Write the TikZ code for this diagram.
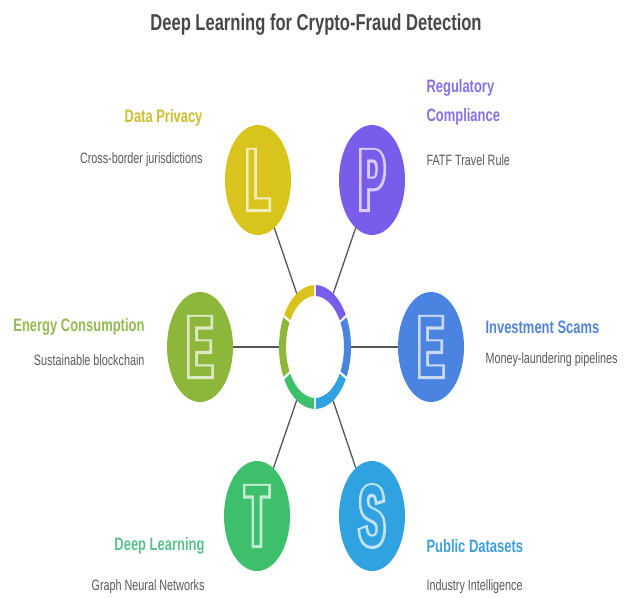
\documentclass[tikz,border=0pt]{standalone}
\usepackage{fontspec}
\setmainfont{Liberation Sans}[FakeStretch=0.72]
\newfontfamily\letterfont{Liberation Sans}[FakeStretch=0.45]
\newfontfamily\letteredge{Liberation Sans}[FakeStretch=0.45, FakeBold=6]
\usetikzlibrary{shapes.geometric, positioning}

\definecolor{privacy}{HTML}{D8C41C}
\definecolor{privacytxt}{HTML}{CDBE2E}
\definecolor{regul}{HTML}{7A5CEB}
\definecolor{regultxt}{HTML}{8670E6}
\definecolor{energy}{HTML}{8DB73B}
\definecolor{energytxt}{HTML}{92BA50}
\definecolor{invest}{HTML}{4A84E0}
\definecolor{investtxt}{HTML}{5283D8}
\definecolor{learn}{HTML}{3DBF6C}
\definecolor{learntxt}{HTML}{5CC28A}
\definecolor{data}{HTML}{2FA2DF}
\definecolor{datatxt}{HTML}{3E9FDA}
\definecolor{linkgray}{HTML}{555555}

% hollow letter: emboldened light copy below, bubble colour on top
\newcommand{\hollow}[2]{\rlap{\letteredge\bfseries\textcolor{white!70!#1}{#2}}\textcolor{#1}{#2}}

\begin{document}
\begin{tikzpicture}[x=1pt, y=-1pt,
    bubble/.style={ellipse, fill=#1, minimum width=66pt, minimum height=110pt,
      inner sep=0pt, outer sep=0pt,
      font=\letterfont\bfseries\fontsize{86}{86}\selectfont},
    head/.style={font=\fontsize{18}{29}\selectfont\bfseries, text=#1},
    note/.style={font=\fontsize{15}{18}\selectfont, text=black!65},
    link/.style={draw=linkgray, line width=1.3pt}]
  \useasboundingbox (0,0) rectangle (626,597);

  \node[font=\fontsize{23}{23}\selectfont\bfseries, text=black!72] (title) at (316,25)
      {Deep Learning for Crypto-Fraud Detection};

  % hub and the six bubbles around it
  \node[ellipse, minimum width=72pt, minimum height=124pt, inner sep=0pt, outer sep=0pt] (hub) at (315,347) {};
  \node[bubble=privacy] (L) at (258,180) {\hollow{privacy}{L}};
  \node[bubble=regul] (P) at (372,180) {\hollow{regul}{P}};
  \node[bubble=energy] (EL) at (200,347) {\hollow{energy}{E}};
  \node[bubble=invest] (ER) at (431,347) {\hollow{invest}{E}};
  \node[bubble=learn] (T) at (257,516) {\hollow{learn}{T}};
  \node[bubble=data] (S) at (372,516) {\hollow{data}{S}};

  \foreach \b in {L,P,EL,ER,T,S}
    \draw[link] (\b) -- (hub);

  % ring split in six coloured pieces
  \begin{scope}[shift={(hub.center)}]
    \foreach \c/\col in {0/invest, 60/regul, 120/privacy, 180/energy, 240/learn, 300/data}{
      \pgfmathsetmacro\angA{-\c+28.5}
      \pgfmathsetmacro\angB{-\c-28.5}
      \fill[\col] (\angA:36 and 62) arc[start angle=\angA, end angle=\angB, x radius=36, y radius=62]
        -- (\angB:29 and 51) arc[start angle=\angB, end angle=\angA, x radius=29, y radius=51] -- cycle;
    }
  \end{scope}

  % labels
  \node[head=privacytxt, anchor=east] (privacy) at (206,118) {Data Privacy};
  \node[note, anchor=east] (privacynote) at (206,160) {Cross-border jurisdictions};
  \node[head=regultxt, anchor=west, align=left] (regul) at (423,102) {Regulatory\\Compliance};
  \node[note, anchor=west] (regulnote) at (423,160) {FATF Travel Rule};
  \node[head=energytxt, anchor=east] (energy) at (148,327) {Energy Consumption};
  \node[note, anchor=east] (energynote) at (148,360) {Sustainable blockchain};
  \node[head=investtxt, anchor=west] (invest) at (482,327) {Investment Scams};
  \node[note, anchor=west] (investnote) at (482,360) {Money-laundering pipelines};
  \node[head=learntxt, anchor=east] (learn) at (208,546) {Deep Learning};
  \node[note, anchor=east] (learnnote) at (208,587) {Graph Neural Networks};
  \node[head=datatxt, anchor=west] (data) at (423,546) {Public Datasets};
  \node[note, anchor=west] (datanote) at (423,587) {Industry Intelligence};
\end{tikzpicture}
\end{document}
